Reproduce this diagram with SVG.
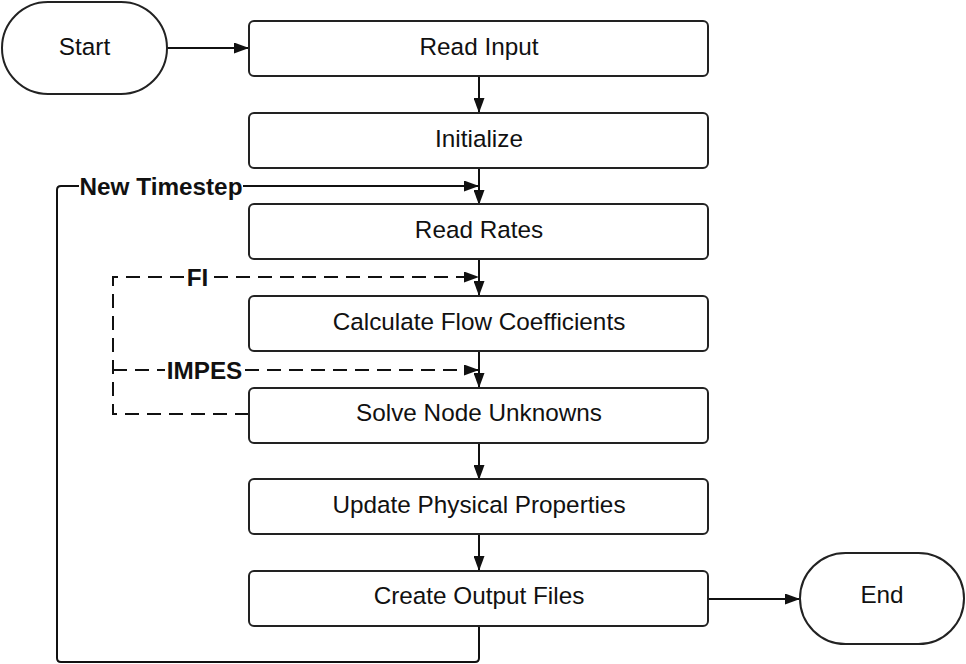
<svg xmlns="http://www.w3.org/2000/svg" width="966" height="664" viewBox="0 0 966 664">
  <style>
    .box { fill: #fff; stroke: #222; stroke-width: 2; }
    .lbl { font-family: "Liberation Sans", Arial, sans-serif; font-size: 24.3px; fill: #111; text-anchor: middle; }
    .tag { font-family: "Liberation Sans", Arial, sans-serif; font-size: 24.3px; font-weight: bold; fill: #111; text-anchor: middle; }
    .wire { fill: none; stroke: #111; stroke-width: 2; }
    .dash { fill: none; stroke: #111; stroke-width: 2; stroke-dasharray: 14 8; }
  </style>
  <defs>
    <marker id="arrow" markerWidth="15" markerHeight="11" refX="14" refY="5.5" orient="auto" markerUnits="userSpaceOnUse">
      <path d="M0,0 L15,5.5 L0,11 Z" fill="#111"/>
    </marker>
  </defs>
  <rect width="966" height="664" fill="#fff"/>

  <g id="connectors">
    <path class="wire" d="M167,48 H248" marker-end="url(#arrow)"/>
    <path class="wire" d="M479,76 V112" marker-end="url(#arrow)"/>
    <path class="wire" d="M479,168 V204" marker-end="url(#arrow)"/>
    <path class="wire" d="M479,259 V295" marker-end="url(#arrow)"/>
    <path class="wire" d="M479,351 V387" marker-end="url(#arrow)"/>
    <path class="wire" d="M479,443 V479" marker-end="url(#arrow)"/>
    <path class="wire" d="M479,534 V570" marker-end="url(#arrow)"/>
    <path class="wire" d="M708,599 H799" marker-end="url(#arrow)"/>
    <!-- timestep loop -->
    <path class="wire" d="M479,626 V658 Q479,662 475,662 H61 Q57,662 57,658 V190 Q57,186 61,186 H478" marker-end="url(#arrow)"/>
    <!-- solver coupling loops -->
    <path class="dash" d="M249,414 H113 V277 H478" marker-end="url(#arrow)"/>
    <path class="dash" d="M113,370 H478" marker-end="url(#arrow)"/>
    <rect x="79" y="172" width="164" height="28" fill="#fff"/>
    <text class="tag" x="161" y="194.5">New Timestep</text>
    <rect x="185" y="263" width="25" height="28" fill="#fff"/>
    <text class="tag" x="197.5" y="285.5">FI</text>
    <rect x="165" y="356" width="79" height="28" fill="#fff"/>
    <text class="tag" x="204.5" y="378.5">IMPES</text>
  </g>

  <g id="start">
    <rect class="box" x="2" y="2" width="165" height="92" rx="46"/>
    <text class="lbl" x="84.5" y="55">Start</text>
  </g>
  <g id="read-input">
    <rect class="box" x="249" y="21" width="459" height="55" rx="5"/>
    <text class="lbl" x="479" y="55">Read Input</text>
  </g>
  <g id="initialize">
    <rect class="box" x="249" y="113" width="459" height="55" rx="5"/>
    <text class="lbl" x="479" y="147">Initialize</text>
  </g>
  <g id="read-rates">
    <rect class="box" x="249" y="204" width="459" height="55" rx="5"/>
    <text class="lbl" x="479" y="238">Read Rates</text>
  </g>
  <g id="calc-flow">
    <rect class="box" x="249" y="296" width="459" height="55" rx="5"/>
    <text class="lbl" x="479" y="330">Calculate Flow Coefficients</text>
  </g>
  <g id="solve-node">
    <rect class="box" x="249" y="388" width="459" height="55" rx="5"/>
    <text class="lbl" x="479" y="421">Solve Node Unknowns</text>
  </g>
  <g id="update-props">
    <rect class="box" x="249" y="479" width="459" height="55" rx="5"/>
    <text class="lbl" x="479" y="513">Update Physical Properties</text>
  </g>
  <g id="create-output">
    <rect class="box" x="249" y="571" width="459" height="55" rx="5"/>
    <text class="lbl" x="479" y="604">Create Output Files</text>
  </g>
  <g id="end">
    <rect class="box" x="800" y="553" width="164" height="91" rx="45.5"/>
    <text class="lbl" x="882" y="603">End</text>
  </g>
</svg>
